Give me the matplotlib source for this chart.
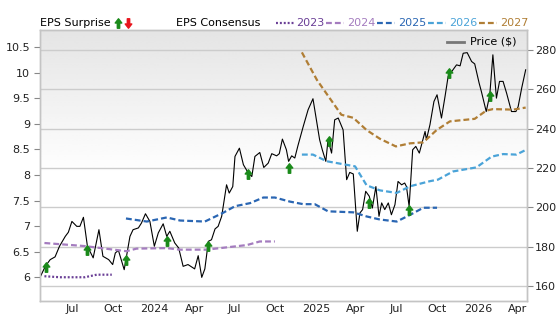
import numpy as np
import matplotlib
matplotlib.use("Agg")
import matplotlib.pyplot as plt
from matplotlib.path import Path
from matplotlib.lines import Line2D

plt.rcParams['font.family'] = 'DejaVu Sans'
plt.rcParams['lines.scale_dashes'] = False

# price ($), right axis
price_dates = ['2023-04-19', '2023-05-01', '2023-05-12', '2023-05-23', '2023-06-02', '2023-06-15',
               '2023-06-22', '2023-06-30', '2023-07-11', '2023-07-18', '2023-07-26', '2023-08-04',
               '2023-08-17', '2023-08-30', '2023-09-08', '2023-09-21', '2023-09-30', '2023-10-06',
               '2023-10-13', '2023-10-26', '2023-11-08', '2023-11-15', '2023-11-27', '2023-12-04',
               '2023-12-13', '2023-12-23', '2024-01-02', '2024-01-11', '2024-01-22', '2024-01-30',
               '2024-02-06', '2024-02-17', '2024-02-26', '2024-03-07', '2024-03-18', '2024-04-02',
               '2024-04-10', '2024-04-18', '2024-04-25', '2024-05-03', '2024-05-10', '2024-05-18',
               '2024-05-25', '2024-06-02', '2024-06-13', '2024-06-19', '2024-06-27', '2024-07-02',
               '2024-07-12', '2024-07-21', '2024-08-01', '2024-08-09', '2024-08-16', '2024-08-27',
               '2024-09-05', '2024-09-15', '2024-09-23', '2024-10-04', '2024-10-10', '2024-10-17',
               '2024-10-26', '2024-10-31', '2024-11-07', '2024-11-14', '2024-11-21', '2024-12-03',
               '2024-12-14', '2024-12-25', '2025-01-03', '2025-01-09', '2025-01-15', '2025-01-23',
               '2025-01-28', '2025-02-05', '2025-02-12', '2025-02-20', '2025-03-03', '2025-03-11',
               '2025-03-18', '2025-03-26', '2025-04-04', '2025-04-10', '2025-04-16', '2025-04-23',
               '2025-05-01', '2025-05-08', '2025-05-16', '2025-05-23', '2025-05-29', '2025-06-05',
               '2025-06-13', '2025-06-20', '2025-06-28', '2025-07-05', '2025-07-13', '2025-07-20',
               '2025-07-24', '2025-07-30', '2025-08-07', '2025-08-14', '2025-08-22', '2025-08-29',
               '2025-09-04', '2025-09-07', '2025-09-15', '2025-09-24', '2025-10-01', '2025-10-11',
               '2025-10-19', '2025-10-26', '2025-11-03', '2025-11-14', '2025-11-22', '2025-11-29',
               '2025-12-08', '2025-12-18', '2025-12-25', '2026-01-04', '2026-01-09', '2026-01-20',
               '2026-01-28', '2026-02-04', '2026-02-12', '2026-02-19', '2026-02-27', '2026-03-07',
               '2026-03-18', '2026-03-28', '2026-04-02', '2026-04-10', '2026-04-19']
price_vals = [164.5, 170.1, 173.5, 174.9, 180.3, 185.3,
              187.4, 192.9, 190.4, 190.4, 195.0, 180.3,
              174.4, 188.7, 175.2, 173.5, 171.0, 176.9,
              178.2, 168.4, 185.3, 188.7, 189.6, 192.1,
              196.8, 192.9, 180.3, 187.1, 191.7, 185.3,
              187.9, 182.0, 179.4, 170.1, 171.0, 168.8,
              175.5, 164.5, 168.8, 182.8, 183.6, 189.1,
              190.4, 195.5, 211.5, 207.3, 210.6, 225.9,
              230.1, 221.7, 217.5, 215.7, 225.9, 227.9,
              220.3, 222.5, 227.3, 226.2, 227.3, 234.7,
              229.3, 223.4, 226.2, 225.1, 231.3, 241.1,
              249.6, 255.2, 242.8, 234.4, 229.3, 223.4,
              234.4, 227.6, 244.5, 245.4, 239.4, 214.1,
              217.8, 217.0, 187.9, 197.2, 198.9, 208.2,
              205.7, 199.7, 210.6, 195.5, 202.3, 198.9,
              202.3, 196.3, 201.4, 213.2, 211.5, 212.4,
              210.6, 200.5, 229.3, 231.0, 227.6, 233.5,
              238.6, 234.4, 242.0, 253.8, 257.2, 245.4,
              256.3, 266.5, 269.0, 272.4, 271.9, 278.3,
              278.6, 274.1, 272.9, 263.1, 258.9, 248.7,
              257.2, 277.5, 255.5, 264.0, 264.0, 258.0,
              248.7, 248.7, 251.2, 260.6, 269.9]

# EPS surprise (all positive), plotted on the price line
surprise_dates = ['2023-05-02', '2023-08-02', '2023-10-31', '2024-01-30', '2024-05-02', '2024-08-01',
                  '2024-10-31', '2025-01-30', '2025-05-01', '2025-07-30', '2025-10-29', '2026-01-28']
surprise_price = [170.0, 178.6, 173.5, 182.8, 180.6, 217.0,
                  220.0, 233.5, 202.3, 198.9, 268.2, 256.7]

# EPS consensus by fiscal year, left axis
eps23_dates = ['2023-04-29', '2023-06-03', '2023-07-29', '2023-08-25', '2023-09-28']
eps23_vals = [6.02, 6.0, 6.0, 6.05, 6.05]

eps24_dates = ['2023-04-29', '2023-07-29', '2023-10-02', '2023-10-31', '2023-11-23', '2024-01-30',
               '2024-02-29', '2024-04-29', '2024-07-29', '2024-08-27', '2024-09-30']
eps24_vals = [6.67, 6.61, 6.54, 6.51, 6.56, 6.57, 6.54, 6.54, 6.63, 6.70, 6.70]

eps25_dates = ['2023-10-30', '2023-12-16', '2024-01-30', '2024-02-29', '2024-04-25', '2024-06-05',
               '2024-07-02', '2024-08-05', '2024-09-04', '2024-09-30', '2024-11-03', '2024-12-03',
               '2024-12-29', '2025-01-28', '2025-03-26', '2025-04-25', '2025-05-25', '2025-07-02',
               '2025-08-01', '2025-08-31', '2025-10-01']
eps25_vals = [7.15, 7.09, 7.17, 7.11, 7.09, 7.26,
              7.39, 7.45, 7.56, 7.56, 7.48, 7.43,
              7.43, 7.29, 7.27, 7.19, 7.13, 7.09,
              7.22, 7.36, 7.36]

eps26_dates = ['2024-11-30', '2024-12-25', '2025-01-25', '2025-03-30', '2025-04-25', '2025-05-25',
               '2025-07-02', '2025-08-01', '2025-09-15', '2025-10-03', '2025-11-06', '2025-12-29',
               '2026-02-01', '2026-02-27', '2026-03-29', '2026-04-19']
eps26_vals = [8.40, 8.40, 8.27, 8.17, 7.80, 7.70,
              7.65, 7.78, 7.88, 7.91, 8.07, 8.15,
              8.36, 8.41, 8.40, 8.49]

eps27_dates = ['2024-11-30', '2025-01-03', '2025-02-27', '2025-03-26', '2025-04-25', '2025-05-25',
               '2025-06-30', '2025-08-01', '2025-08-31', '2025-09-30', '2025-10-30', '2025-12-25',
               '2026-01-20', '2026-02-04', '2026-03-22', '2026-04-19']
eps27_vals = [10.40, 9.86, 9.18, 9.12, 8.88, 8.71,
              8.56, 8.62, 8.64, 8.88, 9.05, 9.10,
              9.26, 9.29, 9.28, 9.32]

xtick_dates = ['2023-07-01', '2023-10-01', '2024-01-01', '2024-04-01', '2024-07-01', '2024-10-01',
               '2025-01-01', '2025-04-01', '2025-07-01', '2025-10-01', '2026-01-01', '2026-04-01']
xtick_labels = ['Jul', 'Oct', '2024', 'Apr', 'Jul', 'Oct', '2025', 'Apr', 'Jul', 'Oct', '2026', 'Apr']
eps_ticks = [6, 6.5, 7, 7.5, 8, 8.5, 9, 9.5, 10, 10.5]
eps_labels = ['6', '6.5', '7', '7.5', '8', '8.5', '9', '9.5', '10', '10.5']
price_ticks = [160, 180, 200, 220, 240, 260, 280]

series_years = ['2023', '2024', '2025', '2026', '2027']
series_colors = ['#6a3f96', '#a47cbf', '#2a66b3', '#4aa3d8', '#b07e35']

d = lambda lst: np.array(lst, dtype='datetime64[D]')

fig = plt.figure(figsize=(5.56, 3.15), dpi=100)
ax = fig.add_axes([40/556, 14.5/315, 487/556, 270.5/315])
ax2 = ax.twinx()
# price axis underneath (background, grid, price line); EPS axis on top
ax.set_zorder(ax2.get_zorder() + 1)
ax.patch.set_visible(False)

# gray -> white gradient background
grad = np.ones((100, 1))
grad[:55, 0] = np.linspace(0.895, 1.0, 55)
ax2.imshow(grad, cmap='gray', vmin=0, vmax=1, extent=[0, 1, 0, 1], transform=ax2.transAxes,
           aspect='auto', zorder=0, interpolation='bilinear')

ax2.plot(d(price_dates), price_vals, color='black', lw=0.8, zorder=3)

grid_kw = dict(color='#cccccc', lw=1.0)
ax2.grid(True, axis='both', **grid_kw)
ax2.set_axisbelow(True)

styles = [dict(dashes=(1.4, 1.4)), dict(dashes=(4.2, 2.2)), dict(dashes=(4.2, 2.2)),
          dict(dashes=(4.2, 2.2)), dict(dashes=(4.2, 2.2))]
all_eps = [(eps23_dates, eps23_vals), (eps24_dates, eps24_vals), (eps25_dates, eps25_vals),
           (eps26_dates, eps26_vals), (eps27_dates, eps27_vals)]
for (dd, vv), c, st in zip(all_eps, series_colors, styles):
    ax.plot(d(dd), vv, color=c, lw=1.6, **st)

# arrow marker
up = Path([(0, 1), (-0.7, 0.1), (-0.25, 0.1), (-0.25, -1), (0.25, -1), (0.25, 0.1), (0.7, 0.1), (0, 1)],
          [Path.MOVETO] + [Path.LINETO] * 6 + [Path.CLOSEPOLY])
down = Path([(0, -1), (-0.7, -0.1), (-0.25, -0.1), (-0.25, 1), (0.25, 1), (0.25, -0.1), (0.7, -0.1), (0, -1)],
            [Path.MOVETO] + [Path.LINETO] * 6 + [Path.CLOSEPOLY])
ax.plot(d(surprise_dates), surprise_price, ls='none', marker=up, ms=6.8, color='#1a8a1a',
        mec='#1a8a1a', transform=ax2.transData, zorder=5)

ax.set_xlim(np.datetime64('2023-04-19'), np.datetime64('2026-04-22'))
ax.set_ylim(5.545, 10.838)
ax2.set_ylim(152.75, 290.1)

ax.set_xticks(d(xtick_dates))
ax.set_xticklabels(xtick_labels)
ax.set_yticks(eps_ticks)
ax.set_yticklabels(eps_labels)
ax2.set_yticks(price_ticks)

ax.tick_params(axis='x', length=0, pad=2.5, labelsize=8, colors='#222222')
ax.tick_params(axis='y', length=4, pad=3, labelsize=8, colors='#888888', labelcolor='#222222')
ax2.tick_params(axis='y', length=4, pad=1.5, labelsize=8, colors='#888888', labelcolor='#222222')

for a in (ax, ax2):
    for s in a.spines.values():
        s.set_color('#c4c4c4')
        s.set_linewidth(1.0)

# top legend
fy = 1 - 22.5/315
fig.text(40/556, fy, 'EPS Surprise', fontsize=8, va='center', ha='left')
fig.add_artist(Line2D([117.5/556], [fy], ls='none', marker=up, ms=6.8, color='#1a8a1a', transform=fig.transFigure))
fig.add_artist(Line2D([127.5/556], [fy], ls='none', marker=down, ms=6.8, color='#e8141c', transform=fig.transFigure))
fig.text(176.5/556, fy, 'EPS Consensus', fontsize=8, va='center', ha='left')
sample_x = [275.5, 326, 377, 428, 479]
for yr, c, st, sx in zip(series_years, series_colors, styles, sample_x):
    fig.add_artist(Line2D([sx/556, (sx + 18)/556], [fy, fy], color=c, lw=1.6, transform=fig.transFigure, **st))
    fig.text((sx + 21)/556, fy, yr, fontsize=8, color=c, va='center', ha='left')

# price legend inside plot
py = 1 - 41.5/315
fig.add_artist(Line2D([447/556, 464/556], [py, py], color='#777777', lw=2, transform=fig.transFigure))
fig.text(470.5/556, py, 'Price ($)', fontsize=8, va='center', ha='left')

fig.savefig('out.png', dpi=100)
